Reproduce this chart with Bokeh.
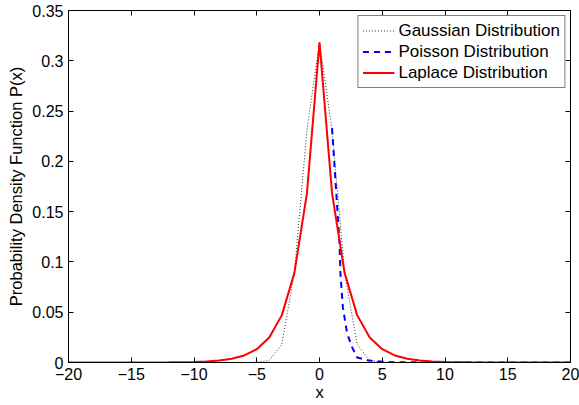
from bokeh.plotting import figure
from bokeh.models import LinearAxis, FixedTicker, CustomJSTickFormatter, Legend, LegendItem, Range1d
from bokeh.embed import file_html
from bokeh.resources import INLINE

# ---- data ----
x_grid = [-20, -19, -18, -17, -16, -15, -14, -13, -12, -11, -10, -9, -8, -7, -6, -5, -4, -3, -2, -1,
          0, 1, 2, 3, 4, 5, 6, 7, 8, 9, 10, 11, 12, 13, 14, 15, 16, 17, 18, 19, 20]

gaussian = [0, 0, 0, 0, 0, 0, 0, 0, 0, 0, 0, 0, 0, 0, 0, 0.0001, 0.0020, 0.0181, 0.0892, 0.2314,
            0.3183, 0.2314, 0.0892, 0.0181, 0.0020, 0.0001, 0, 0, 0, 0, 0, 0, 0, 0, 0, 0, 0, 0, 0, 0, 0]

laplace = [0, 0, 0, 0.00001, 0.00001, 0.00002, 0.00004, 0.00008, 0.00015, 0.0003, 0.00055, 0.0010,
           0.0020, 0.0037, 0.0070, 0.0132, 0.0249, 0.0471, 0.0891, 0.1684,
           0.3183, 0.1684, 0.0891, 0.0471, 0.0249, 0.0132, 0.0070, 0.0037, 0.0020, 0.0010, 0.00055,
           0.0003, 0.00015, 0.00008, 0.00004, 0.00002, 0.00001, 0.00001, 0, 0, 0]

poisson_x = [1.0, 1.6, 1.67, 1.86, 2.2, 2.6, 3.0, 3.9, 5.0, 6.0, 8.0, 10.0, 20.0]
poisson_y = [0.233, 0.118, 0.088, 0.055, 0.029, 0.015, 0.005, 0.002, 0.0008, 0.0003, 0.0001, 0.0, 0.0]

x_ticks = [-20, -15, -10, -5, 0, 5, 10, 15, 20]
y_ticks = [0, 0.05, 0.1, 0.15, 0.2, 0.25, 0.3, 0.35]

series_labels = ["Gaussian Distribution", "Poisson Distribution", "Laplace Distribution"]
x_label = "x"
y_label = "Probability Density Function P(x)"

FONT = "Liberation Sans"

p = figure(width=579, height=405, output_backend="svg", toolbar_location=None,
           x_range=Range1d(-20, 20), y_range=Range1d(0, 0.35),
           min_border_left=68, min_border_right=9, min_border_top=10, min_border_bottom=43,
           background_fill_color="white", border_fill_color="white")
p.outline_line_color = "black"
p.outline_line_width = 1
p.xgrid.visible = False
p.ygrid.visible = False

xfmt = CustomJSTickFormatter(code="return tick < 0 ? '\\u2212' + Math.abs(tick) : tick.toString();")
yfmt = CustomJSTickFormatter(code="return Number(tick.toFixed(2)).toString();")

def style(ax, labels=True):
    ax.axis_line_color = "black"
    ax.major_tick_line_color = "black"
    ax.major_tick_in = 5
    ax.major_tick_out = 0
    ax.minor_tick_line_color = None
    if labels:
        ax.major_label_text_font = FONT
        ax.major_label_text_font_size = "16px"
        ax.major_label_text_color = "black"
        ax.major_label_standoff = 5
        ax.axis_label_text_font = FONT
        ax.axis_label_text_font_size = "16.5px"
        ax.axis_label_text_font_style = "normal"
        ax.axis_label_text_color = "black"
    else:
        ax.major_label_text_font_size = "1px"
        ax.major_label_text_color = None
        ax.major_label_standoff = 0

p.xaxis.ticker = FixedTicker(ticks=x_ticks)
p.xaxis.formatter = xfmt
p.xaxis.axis_label = x_label
p.yaxis.ticker = FixedTicker(ticks=y_ticks)
p.yaxis.formatter = yfmt
p.yaxis.axis_label = y_label
style(p.xaxis[0])
style(p.yaxis[0])
p.xaxis.axis_label_standoff = 0
p.yaxis.major_label_standoff = 5
p.yaxis.axis_label_standoff = 4

top = LinearAxis(ticker=FixedTicker(ticks=x_ticks))
style(top, labels=False)
p.add_layout(top, "above")
right = LinearAxis(ticker=FixedTicker(ticks=y_ticks))
style(right, labels=False)
p.add_layout(right, "right")

g = p.line(x_grid, gaussian, line_color="#303030", line_width=1, line_dash="1 2")
po = p.line(poisson_x, poisson_y, line_color="#0000ff", line_width=2, line_dash="6 5")
la = p.line(x_grid, laplace, line_color="#ff0000", line_width=2)

legend = Legend(items=[LegendItem(label=series_labels[0], renderers=[g]),
                       LegendItem(label=series_labels[1], renderers=[po]),
                       LegendItem(label=series_labels[2], renderers=[la])],
                location="top_right", margin=5, padding=4, spacing=0,
                glyph_width=32, glyph_height=21, label_height=21, label_standoff=4,
                label_text_font=FONT, label_text_font_size="17px", label_text_color="black",
                border_line_color="black", border_line_width=1, background_fill_alpha=1)
p.add_layout(legend)

open("out.html", "w").write(file_html(p, INLINE))
